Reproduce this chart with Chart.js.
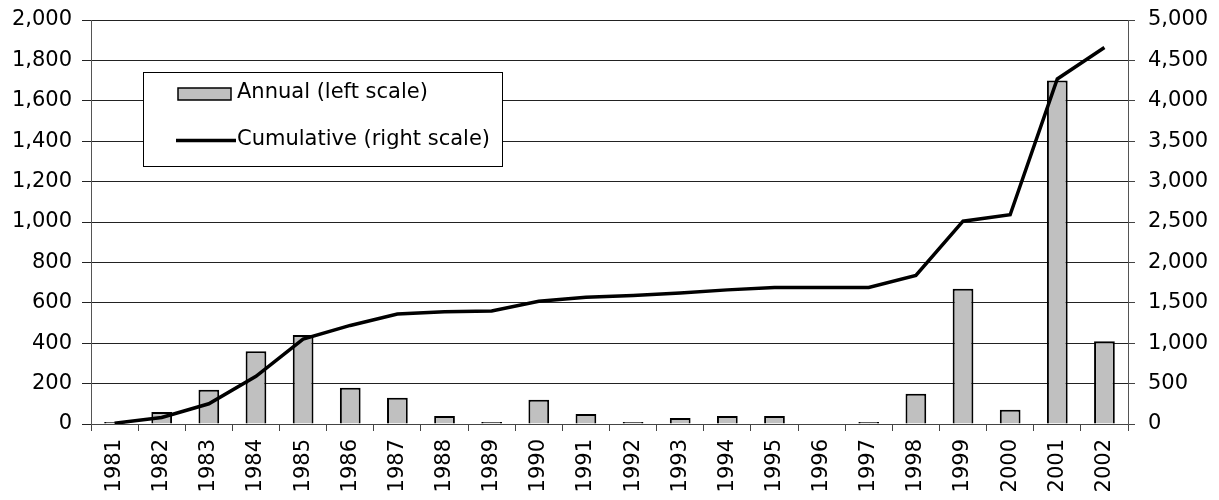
<html lang="en">
<head>
    <meta charset="UTF-8" />
    <title>Annual and cumulative</title>
    <style>
        body { margin: 0; background: #fff; }
    </style>
</head>
<body>
    <canvas id="myChart" width="1219" height="500"></canvas>

    <script src="https://cdn.jsdelivr.net/npm/chart.js"></script>
    <script>
        // data
        const years = ["1981", "1982", "1983", "1984", "1985", "1986", "1987", "1988", "1989", "1990", "1991",
            "1992", "1993", "1994", "1995", "1996", "1997", "1998", "1999", "2000", "2001", "2002"];
        const annual = [10, 60, 170, 360, 440, 180, 130, 40, 10, 120, 50,
            10, 30, 40, 40, 0, 10, 150, 670, 70, 1700, 410];
        const cumulative = [10, 80, 250, 590, 1050, 1220, 1360, 1390, 1400, 1520, 1570,
            1590, 1620, 1660, 1690, 1690, 1690, 1840, 2510, 2590, 4270, 4660];
        const legendLabels = ["Annual (left scale)", "Cumulative (right scale)"];

        const FONT = "DejaVu Sans";
        const fmt = (v) => Number(v).toLocaleString("en-US");

        // fixed axis sizes so the plot area sits where the original has it
        function fixY(scale) {
            scale.width = 91;
            scale.paddingTop = 0;
            scale.paddingBottom = 0;
        }

        // legend box drawn inside the plot
        const boxLegend = {
            id: "boxLegend",
            afterDraw(chart) {
                const ctx = chart.ctx;
                ctx.save();
                ctx.fillStyle = "#fff";
                ctx.fillRect(143.5, 72.5, 359, 94);
                ctx.strokeStyle = "#000";
                ctx.lineWidth = 1;
                ctx.strokeRect(143.5, 72.5, 359, 94);

                ctx.fillStyle = "#c0c0c0";
                ctx.fillRect(178, 88, 53, 12);
                ctx.lineWidth = 1.5;
                ctx.strokeRect(178, 88, 53, 12);

                ctx.beginPath();
                ctx.lineWidth = 3.5;
                ctx.moveTo(176, 140.5);
                ctx.lineTo(236, 140.5);
                ctx.stroke();

                ctx.fillStyle = "#000";
                ctx.font = "21px '" + FONT + "'";
                ctx.textBaseline = "middle";
                ctx.fillText(legendLabels[0], 237, 93);
                ctx.fillText(legendLabels[1], 237, 140);
                ctx.restore();
            },
        };

        const config = {
            type: "bar",
            data: {
                labels: years,
                datasets: [
                    {
                        type: "line",
                        label: legendLabels[1],
                        data: cumulative,
                        yAxisID: "y2",
                        borderColor: "#000",
                        borderWidth: 3.5,
                        pointRadius: 0,
                        tension: 0,
                        order: 0,
                    },
                    {
                        label: legendLabels[0],
                        data: annual,
                        yAxisID: "y",
                        backgroundColor: "#c0c0c0",
                        borderColor: "#000",
                        borderWidth: 2,
                        barPercentage: 0.44,
                        categoryPercentage: 1,
                        order: 1,
                    },
                ],
            },
            options: {
                responsive: false,
                animation: false,
                layout: { padding: { top: 20, left: 0, right: 0, bottom: 0 } },
                plugins: {
                    legend: { display: false },
                    tooltip: { enabled: false },
                },
                scales: {
                    x: {
                        offset: true,
                        grid: { offset: true, drawOnChartArea: false, tickLength: 7, color: "#444" },
                        border: { color: "#444", width: 1 },
                        ticks: {
                            minRotation: 90,
                            maxRotation: 90,
                            autoSkip: false,
                            padding: 8,
                            color: "#000",
                            font: { family: FONT, size: 21 },
                        },
                        afterFit(scale) { scale.height = 76; },
                    },
                    y: {
                        position: "left",
                        min: 0,
                        max: 2000,
                        ticks: {
                            stepSize: 200,
                            padding: 10,
                            color: "#000",
                            font: { family: FONT, size: 21 },
                            callback: fmt,
                        },
                        grid: { color: "#222", tickLength: 9 },
                        border: { color: "#555", width: 1 },
                        afterFit: fixY,
                    },
                    y2: {
                        position: "right",
                        min: 0,
                        max: 5000,
                        ticks: {
                            stepSize: 500,
                            padding: 13,
                            color: "#000",
                            font: { family: FONT, size: 21 },
                            callback: fmt,
                        },
                        grid: { drawOnChartArea: false, color: "#444", tickLength: 7 },
                        border: { color: "#555", width: 1 },
                        afterFit: fixY,
                    },
                },
            },
            plugins: [boxLegend],
        };

        const myChart = new Chart(document.getElementById("myChart"), config);
    </script>
</body>
</html>
